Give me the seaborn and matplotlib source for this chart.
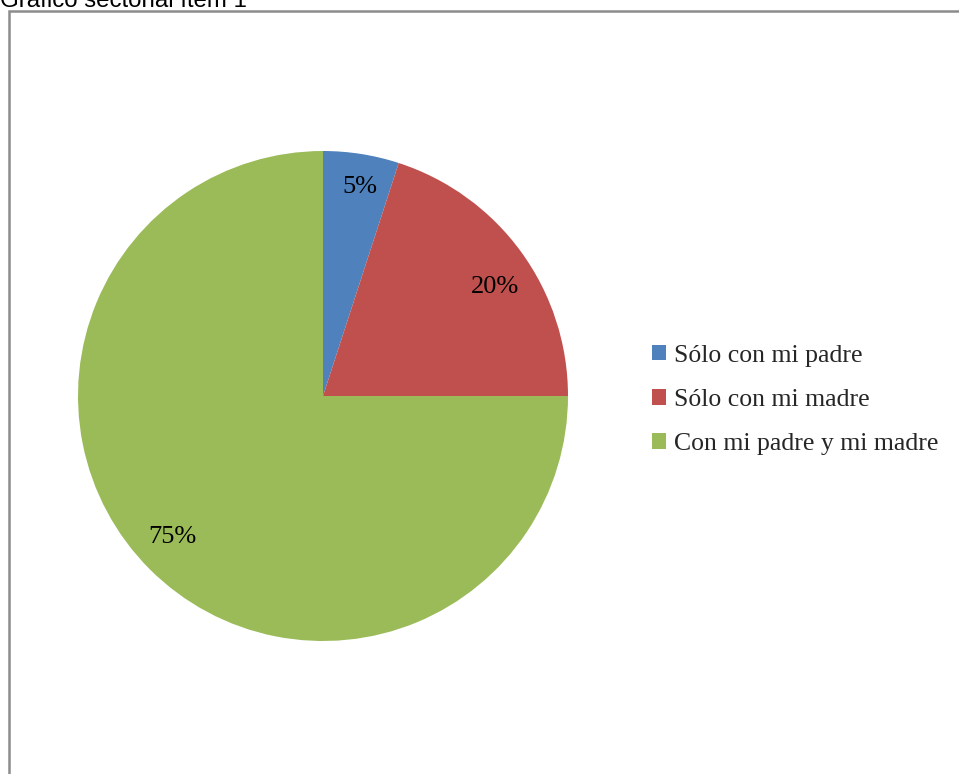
import matplotlib
matplotlib.use("Agg")
import matplotlib.pyplot as plt
from matplotlib.patches import Rectangle, Patch
import seaborn as sns

sns.set_theme(style="white")
plt.rcParams["font.family"] = ["Liberation Serif", "DejaVu Serif"]

categories = ["Sólo con mi padre", "Sólo con mi madre", "Con mi padre y mi madre"]
values = [5, 20, 75]
pct_labels = ["5%", "20%", "75%"]
colors = ["#4F81BD", "#C0504D", "#9BBB59"]

W, H = 959, 774
fig = plt.figure(figsize=(W / 100, H / 100), dpi=100)
fig.patch.set_facecolor("white")

# chart frame, running off the right and bottom edges
frame = Rectangle((8.5 / W, 0 - 0.05), 1.1, 1 - 10.5 / H + 0.05,
                  transform=fig.transFigure, fill=False,
                  edgecolor="#8C8C8C", linewidth=1.8, clip_on=False)
fig.patches.append(frame)

fig.text(0 / W, 1 - 7 / H, "Gráfico sectorial ítem 1",
         family=["Liberation Sans", "DejaVu Sans"], fontsize=17.3,
         ha="left", va="baseline", color="black")

# pie axes: center (323, 396), radius 245 px
cx, cy, r = 323, 396, 245
ax = fig.add_axes([(cx - r) / W, 1 - (cy + r) / H, 2 * r / W, 2 * r / H])
wedges, _ = ax.pie(values, colors=colors, startangle=90, counterclock=False,
                   wedgeprops=dict(linewidth=0))
ax.set_aspect("equal")
ax.set_xlim(-1, 1)
ax.set_ylim(-1, 1)

# percentage labels inside the slices
label_pos = [(360, 187), (495, 287), (172, 537)]
for (px, py), txt in zip(label_pos, pct_labels):
    ax.text((px - cx) / r, -(py - cy) / r, txt, ha="center", va="center",
            fontsize=19, color="black")

handles = [Patch(facecolor=c, edgecolor="none") for c in colors]
fig.legend(handles, categories, loc="upper left",
           bbox_to_anchor=(642 / W, 1 - 334.5 / H), frameon=False,
           fontsize=18.5, handlelength=0.55, handleheight=0.55,
           handletextpad=0.3, labelspacing=0.86, borderaxespad=0)

fig.savefig("out.png", dpi=100, facecolor="white")
